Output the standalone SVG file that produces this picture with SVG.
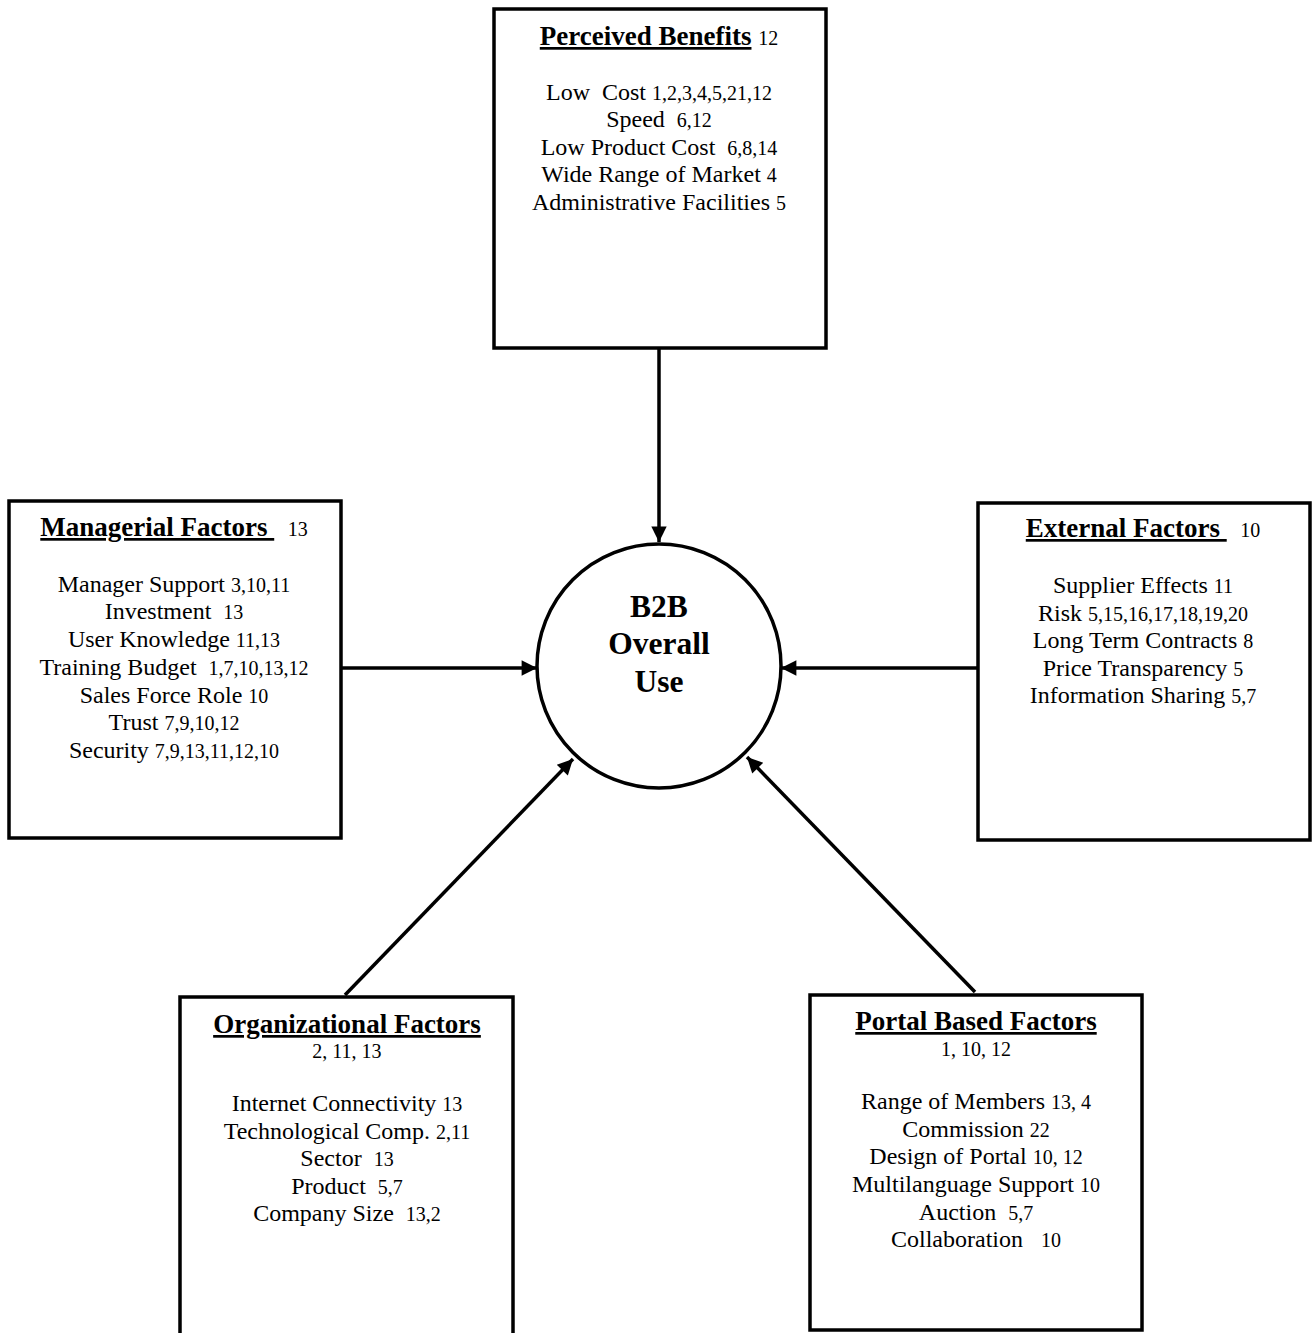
<svg xmlns="http://www.w3.org/2000/svg" width="1315" height="1333" viewBox="0 0 1315 1333">
  <style>
    .box { fill: #fff; stroke: #000; stroke-width: 3.5; }
    .hub { fill: #fff; stroke: #000; stroke-width: 3.5; }
    .conn { stroke: #000; stroke-width: 3.5; fill: none; marker-end: url(#arrow); }
    text { font-family: "Liberation Serif", "Times New Roman", serif; fill: #000; text-anchor: middle; white-space: pre; }
    .head { font-size: 27px; }
    .h { font-weight: bold; text-decoration: underline; }
    .item { font-size: 24px; }
    .ref { font-size: 20px; }
    .hubtxt { font-size: 31.5px; font-weight: bold; }
  </style>
  <defs>
    <marker id="arrow" viewBox="0 0 10 10" refX="10" refY="5" markerWidth="5" markerHeight="4.4" markerUnits="strokeWidth" orient="auto">
      <path d="M0,0 L10,5 L0,10 z" fill="#000"/>
    </marker>
  </defs>

  <!-- arrows pointing into the central circle -->
  <g id="connectors">
    <line class="conn" x1="659" y1="348" x2="659" y2="542"/>
    <line class="conn" x1="341" y1="668" x2="537" y2="668"/>
    <line class="conn" x1="978" y1="668" x2="781" y2="668"/>
    <line class="conn" x1="345" y1="995" x2="573" y2="759"/>
    <line class="conn" x1="975" y1="992" x2="747" y2="757"/>
  </g>

  <g id="overall-use">
    <circle class="hub" cx="659" cy="666" r="122"/>
    <text class="hubtxt" x="659" y="617">B2B</text>
    <text class="hubtxt" x="659" y="654">Overall</text>
    <text class="hubtxt" x="659" y="692">Use</text>
  </g>

  <g id="perceived-benefits">
    <rect class="box" x="494" y="9" width="332" height="339"/>
    <text class="head" x="659" y="45"><tspan class="h">Perceived Benefits</tspan> <tspan class="ref">12</tspan></text>
    <text class="item" x="659" y="100">Low  Cost <tspan class="ref">1,2,3,4,5,21,12</tspan></text>
    <text class="item" x="659" y="127">Speed  <tspan class="ref">6,12</tspan></text>
    <text class="item" x="659" y="155">Low Product Cost  <tspan class="ref">6,8,14</tspan></text>
    <text class="item" x="659" y="182">Wide Range of Market <tspan class="ref">4</tspan></text>
    <text class="item" x="659" y="210">Administrative Facilities <tspan class="ref">5</tspan></text>
  </g>

  <g id="managerial-factors">
    <rect class="box" x="9" y="501" width="332" height="337"/>
    <text class="head" x="174" y="536"><tspan class="h">Managerial Factors </tspan>  <tspan class="ref">13</tspan></text>
    <text class="item" x="174" y="592">Manager Support <tspan class="ref">3,10,11</tspan></text>
    <text class="item" x="174" y="619">Investment  <tspan class="ref">13</tspan></text>
    <text class="item" x="174" y="647">User Knowledge <tspan class="ref">11,13</tspan></text>
    <text class="item" x="174" y="675">Training Budget  <tspan class="ref">1,7,10,13,12</tspan></text>
    <text class="item" x="174" y="703">Sales Force Role <tspan class="ref">10</tspan></text>
    <text class="item" x="174" y="730">Trust <tspan class="ref">7,9,10,12</tspan></text>
    <text class="item" x="174" y="758">Security <tspan class="ref">7,9,13,11,12,10</tspan></text>
  </g>

  <g id="external-factors">
    <rect class="box" x="978" y="503" width="332" height="337"/>
    <text class="head" x="1143" y="537"><tspan class="h">External Factors </tspan>  <tspan class="ref">10</tspan></text>
    <text class="item" x="1143" y="593">Supplier Effects <tspan class="ref">11</tspan></text>
    <text class="item" x="1143" y="621">Risk <tspan class="ref">5,15,16,17,18,19,20</tspan></text>
    <text class="item" x="1143" y="648">Long Term Contracts <tspan class="ref">8</tspan></text>
    <text class="item" x="1143" y="676">Price Transparency <tspan class="ref">5</tspan></text>
    <text class="item" x="1143" y="703">Information Sharing <tspan class="ref">5,7</tspan></text>
  </g>

  <g id="organizational-factors">
    <rect class="box" x="180" y="997" width="333" height="350"/>
    <text class="head" x="347" y="1033"><tspan class="h">Organizational Factors</tspan></text>
    <text class="ref" x="347" y="1058">2, 11, 13</text>
    <text class="item" x="347" y="1111">Internet Connectivity <tspan class="ref">13</tspan></text>
    <text class="item" x="347" y="1139">Technological Comp. <tspan class="ref">2,11</tspan></text>
    <text class="item" x="347" y="1166">Sector  <tspan class="ref">13</tspan></text>
    <text class="item" x="347" y="1194">Product  <tspan class="ref">5,7</tspan></text>
    <text class="item" x="347" y="1221">Company Size  <tspan class="ref">13,2</tspan></text>
  </g>

  <g id="portal-based-factors">
    <rect class="box" x="810" y="995" width="332" height="335"/>
    <text class="head" x="976" y="1030"><tspan class="h">Portal Based Factors</tspan></text>
    <text class="ref" x="976" y="1056">1, 10, 12</text>
    <text class="item" x="976" y="1109">Range of Members <tspan class="ref">13, 4</tspan></text>
    <text class="item" x="976" y="1137">Commission <tspan class="ref">22</tspan></text>
    <text class="item" x="976" y="1164">Design of Portal <tspan class="ref">10, 12</tspan></text>
    <text class="item" x="976" y="1192">Multilanguage Support <tspan class="ref">10</tspan></text>
    <text class="item" x="976" y="1220">Auction  <tspan class="ref">5,7</tspan></text>
    <text class="item" x="976" y="1247">Collaboration   <tspan class="ref">10</tspan></text>
  </g>
</svg>
